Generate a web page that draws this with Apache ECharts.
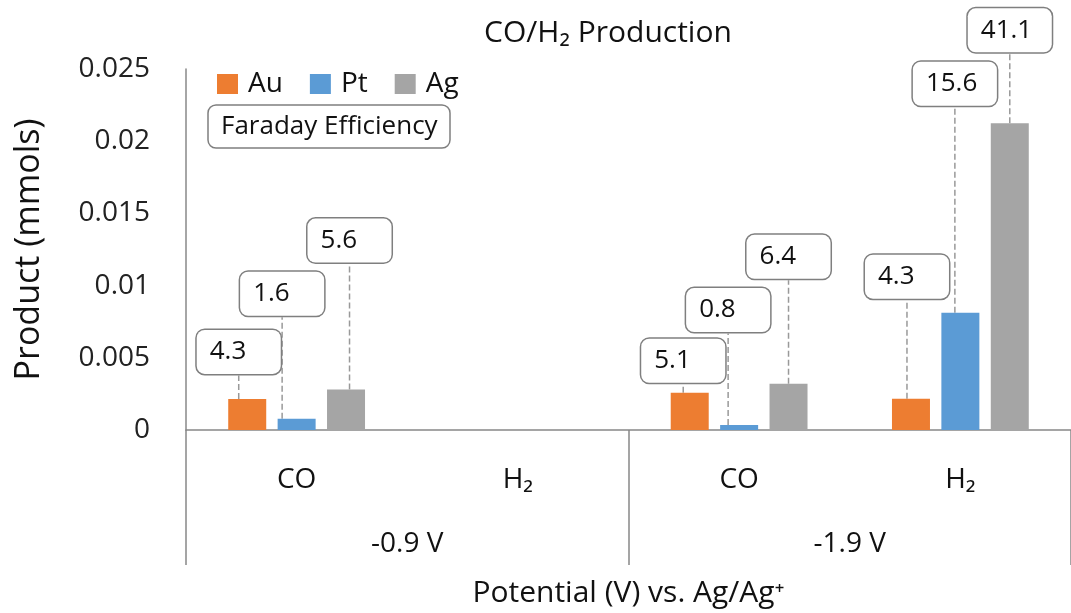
<!DOCTYPE html>
<html>
<head>
<meta charset="utf-8">
<script src="https://cdn.jsdelivr.net/npm/echarts@6/dist/echarts.min.js"></script>
<style>
html,body{margin:0;padding:0;background:#fff;}
#chart{width:1071px;height:613px;}
</style>
</head>
<body>
<div id="chart"></div>
<script>
// ---- data ----
const products = ['CO', 'H₂', 'CO', 'H₂'];
const potentials = ['-0.9 V', '-1.9 V'];
const yTicks = [0, 0.005, 0.01, 0.015, 0.02, 0.025];
const seriesNames = ['Au', 'Pt', 'Ag'];
const auValues = [0.00215, '-', 0.00258, 0.00217];
const ptValues = [0.00078, '-', 0.00034, 0.00812];
const agValues = [0.0028, '-', 0.0032, 0.02124];
const auFE = ['4.3', '', '5.1', '4.3'];
const ptFE = ['1.6', '', '0.8', '15.6'];
const agFE = ['5.6', '', '6.4', '41.1'];

// ---- callout placement (label box centre offset from bar centre, box bottom offset from bar top) ----
const calloutShift = [
  [[-8.5, -25], null, [-6.5, -10], [-4, -100]],
  [[-14.5, -103], null, [-11, -93], [-5.5, -207]],
  [[3.5, -127], null, [0, -105], [0, -71]]
];
const BOX_HALF = 42;

const colors = ['#ED7D31', '#5B9BD5', '#A5A5A5'];
const FONT = 'Open Sans';
const values = [auValues, ptValues, agValues];
const fes = [auFE, ptFE, agFE];

const chart = echarts.init(document.getElementById('chart'), null, {renderer: 'canvas'});

const series = seriesNames.map((name, si) => ({
  name: name,
  type: 'bar',
  xAxisIndex: 0,
  barWidth: 38,
  barGap: '30%',
  itemStyle: {color: colors[si]},
  data: values[si],
  label: {
    show: true,
    position: 'top',
    distance: 0,
    align: 'left',
    formatter: p => fes[si][p.dataIndex],
    fontFamily: FONT,
    fontSize: 26,
    color: '#111',
    width: 57,
    padding: [9, 14, 9, 13],
    lineHeight: 26,
    backgroundColor: '#fff',
    borderColor: '#7f7f7f',
    borderWidth: 1.5,
    borderRadius: 8
  },
  labelLine: {
    show: true,
    lineStyle: {color: '#999', type: 'dashed', width: 1.5}
  },
  labelLayout: function (p) {
    const s = calloutShift[p.seriesIndex] && calloutShift[p.seriesIndex][p.dataIndex];
    if (!s) return {};
    const cx = p.rect.x + p.rect.width / 2;
    const dx = s[0] - BOX_HALF;
    const dy = s[1];
    const bottom = p.labelRect.y + p.labelRect.height + dy;
    return {dx: dx, dy: dy, labelLinePoints: [[cx, bottom], [cx, p.rect.y]]};
  }
}));

const option = {
  animation: false,
  textStyle: {fontFamily: FONT},
  title: [
    {
      text: 'CO/H₂ Production',
      left: 603, top: 13,
      textAlign: 'center',
      textStyle: {fontFamily: FONT, fontSize: 30, fontWeight: 'normal', color: '#111'}
    },
    {
      text: 'Faraday Efficiency',
      left: 208, top: 105,
      padding: [8, 13, 8, 13],
      borderColor: '#7f7f7f',
      borderWidth: 1.5,
      borderRadius: 8,
      backgroundColor: '#fff',
      textStyle: {fontFamily: FONT, fontSize: 26, fontWeight: 'normal', color: '#111', lineHeight: 27}
    }
  ],
  legend: {
    data: seriesNames,
    left: 217, top: 70,
    padding: 0,
    icon: 'rect',
    itemWidth: 21, itemHeight: 20,
    itemGap: 27,
    textStyle: {fontFamily: FONT, fontSize: 28, color: '#111', padding: [0, 0, 0, 5]}
  },
  grid: {left: 186, top: 69, width: 896, bottom: 179, containLabel: false},
  xAxis: [
    {
      type: 'category',
      data: products,
      position: 'bottom',
      axisLine: {lineStyle: {color: '#888', width: 1.5}},
      axisTick: {show: false},
      axisLabel: {fontFamily: FONT, fontSize: 28, color: '#111', margin: 36}
    },
    {
      type: 'category',
      data: potentials,
      position: 'bottom',
      offset: 135,
      axisLine: {show: false},
      axisTick: {show: true, inside: true, length: 135, lineStyle: {color: '#888', width: 1.5}},
      axisLabel: {inside: true, fontFamily: FONT, fontSize: 28, color: '#111', margin: 7},
      name: 'Potential (V) vs. Ag/Ag⁺',
      nameLocation: 'middle',
      nameGap: 13,
      nameTextStyle: {fontFamily: FONT, fontSize: 30, color: '#111', verticalAlign: 'top'}
    }
  ],
  yAxis: {
    type: 'value',
    min: yTicks[0],
    max: yTicks[yTicks.length - 1],
    interval: yTicks[1] - yTicks[0],
    axisLine: {show: true, lineStyle: {color: '#888', width: 1.5}},
    axisTick: {show: false},
    splitLine: {show: false},
    axisLabel: {fontFamily: FONT, fontSize: 28, color: '#222', margin: 36,
      formatter: v => String(+v.toFixed(3))},
    name: 'Product (mmols)',
    nameLocation: 'middle',
    nameGap: 140,
    nameTextStyle: {fontFamily: FONT, fontSize: 34, color: '#111'}
  },
  series: series
};
chart.setOption(option);
</script>
</body>
</html>
